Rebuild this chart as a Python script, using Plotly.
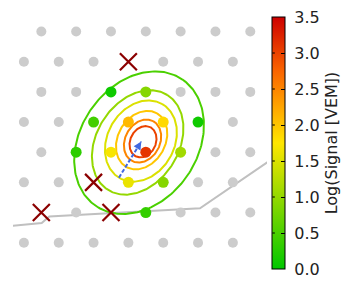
import numpy as np
import plotly.graph_objects as go
from plotly.colors import sample_colorscale

# ---------------- data (km, relative to hottest station) ----------------
silent_x = [-4.5, -3, -1.5, 0, 1.5, 3, 4.5,
            -5.25, -3.75, -2.25, 0.75, 2.25, 3.75,
            -4.5, -3, 1.5, 3, 4.5,
            -5.25, -3.75, 3.75,
            -4.5, 3, 4.5,
            -5.25, -3.75, 2.25, 3.75,
            -3, 1.5, 3, 4.5,
            -5.25, -3.75, -2.25, -0.75, 0.75, 2.25, 3.75]
silent_y = [5.196] * 7 + [3.897] * 6 + [2.598] * 5 + [1.299] * 3 + [0.0] * 3 \
    + [-1.299] * 4 + [-2.598] * 4 + [-3.897] * 7

sig_x = [-1.5, 0, -2.25, -0.75, 0.75, 2.25, -3, -1.5, 0, 1.5, -0.75, 0.75, 0]
sig_y = [2.598, 2.598, 1.299, 1.299, 1.299, 1.299, 0, 0, 0, 0, -1.299, -1.299, -2.598]
sig_log = [0.1, 0.9, 0.45, 2.1, 1.85, 0.1, 0.3, 1.7, 3.1, 1.1, 1.6, 0.9, 0.35]

bad_x = [-0.75, -2.25, -4.5, -1.5]
bad_y = [3.897, -1.299, -2.598, -2.598]

border_x = [-6.0, -5.706, -4.483, -4.156, 2.334, 6.0]
border_y = [-3.193, -3.165, -3.049, -2.765, -2.412, 0.089]

ring_level = [0.5, 1.0, 1.5, 2.0, 2.5, 3.0]
ring_cx = [-0.29, -0.35, -0.21, -0.18, -0.14, -0.12]
ring_cy = [0.41, 0.42, 0.48, 0.52, 0.48, 0.45]
ring_a = [3.30, 2.41, 1.84, 1.33, 0.97, 0.70]
ring_b = [2.52, 1.77, 1.44, 1.02, 0.75, 0.55]
ring_angle = [55.5, 58, 60, 60, 62, 64]

axis_tail = (-1.158, -1.098)
axis_head = (-0.194, 0.461)

cb_ticks = [0.0, 0.5, 1.0, 1.5, 2.0, 2.5, 3.0, 3.5]
cmin, cmax = 0.0, 3.5

colorscale = [
    [0.0, "rgb(0,200,0)"],
    [0.25, "rgb(130,214,0)"],
    [0.5, "rgb(255,230,0)"],
    [0.643, "rgb(255,165,0)"],
    [0.786, "rgb(250,100,0)"],
    [1.0, "rgb(205,0,0)"],
]

FONT = "DejaVu Sans"
CB_X = (272.3 - 13) / 254  # left edge of colour bar, in plot-domain fraction

fig = go.Figure()

# array border
fig.add_trace(go.Scatter(x=border_x, y=border_y, mode="lines",
                         line=dict(color="#c0c0c0", width=2), hoverinfo="skip"))

# silent stations
fig.add_trace(go.Scatter(x=silent_x, y=silent_y, mode="markers",
                         marker=dict(color="#cccccc", size=10, line=dict(width=0)),
                         hoverinfo="skip"))

# LDF contour rings
t = np.linspace(0, 2 * np.pi, 241)
for lev, cx, cy, a, b, ang in zip(ring_level, ring_cx, ring_cy, ring_a, ring_b, ring_angle):
    th = np.deg2rad(ang)
    ex = cx + a * np.cos(t) * np.cos(th) - b * np.sin(t) * np.sin(th)
    ey = cy + a * np.cos(t) * np.sin(th) + b * np.sin(t) * np.cos(th)
    col = sample_colorscale(colorscale, [(lev - cmin) / (cmax - cmin)])[0]
    fig.add_trace(go.Scatter(x=ex, y=ey, mode="lines",
                             line=dict(color=col, width=2), hoverinfo="skip"))

# signal stations
fig.add_trace(go.Scatter(
    x=sig_x, y=sig_y, mode="markers",
    marker=dict(color=sig_log, colorscale=colorscale, cmin=cmin, cmax=cmax, size=11,
                line=dict(width=0), showscale=True,
                colorbar=dict(
                    x=CB_X, xanchor="left", xpad=0,
                    y=0.5, yanchor="middle", ypad=0,
                    len=252, lenmode="pixels", thickness=13,
                    outlinewidth=1, outlinecolor="black",
                    tickmode="array", tickvals=cb_ticks,
                    ticktext=["\u00a0" + f"{v:.1f}" for v in cb_ticks],
                    ticks="inside", ticklen=4, tickwidth=1, tickcolor="black",
                    tickfont=dict(family=FONT, size=16, color="#222"),
                    title=dict(text="\u00a0Log(Signal [VEM])", side="right",
                               font=dict(family=FONT, size=16, color="#222")),
                )),
    hoverinfo="skip"))

# bad / rejected stations
fig.add_trace(go.Scatter(x=bad_x, y=bad_y, mode="markers",
                         marker=dict(symbol="x-thin", size=17, color="#8b0000",
                                     line=dict(color="#8b0000", width=2.2)),
                         hoverinfo="skip"))

# shower axis projection (dashed) + arrow head
fig.add_trace(go.Scatter(x=[axis_tail[0], axis_head[0]], y=[axis_tail[1], axis_head[1]],
                         mode="lines", line=dict(color="#4169e1", width=2, dash="4px,2px"),
                         hoverinfo="skip"))
dx = axis_head[0] - axis_tail[0]
dy = axis_head[1] - axis_tail[1]
fig.add_annotation(x=axis_head[0], y=axis_head[1],
                   ax=axis_head[0] - 0.1 * dx, ay=axis_head[1] - 0.1 * dy,
                   xref="x", yref="y", axref="x", ayref="y", text="",
                   showarrow=True, arrowhead=2, arrowsize=0.8, arrowwidth=2,
                   arrowcolor="#4169e1")

# tick marks on the left edge of the colour bar
for v in cb_ticks[1:-1]:
    fig.add_annotation(x=CB_X, y=(v - cmin) / (cmax - cmin), xref="paper", yref="paper",
                       ax=4, ay=0, text="", showarrow=True, arrowhead=0,
                       arrowwidth=1, arrowcolor="black", standoff=0, startstandoff=0)

fig.update_layout(
    width=360, height=300,
    margin=dict(l=13, r=93, t=17, b=31),
    paper_bgcolor="white", plot_bgcolor="white",
    showlegend=False,
    xaxis=dict(range=[-5.72, 5.22], visible=False, fixedrange=True),
    yaxis=dict(range=[-5.03, 5.823], visible=False, fixedrange=True),
)

fig.write_html("out.html", config=dict(displayModeBar=False))
